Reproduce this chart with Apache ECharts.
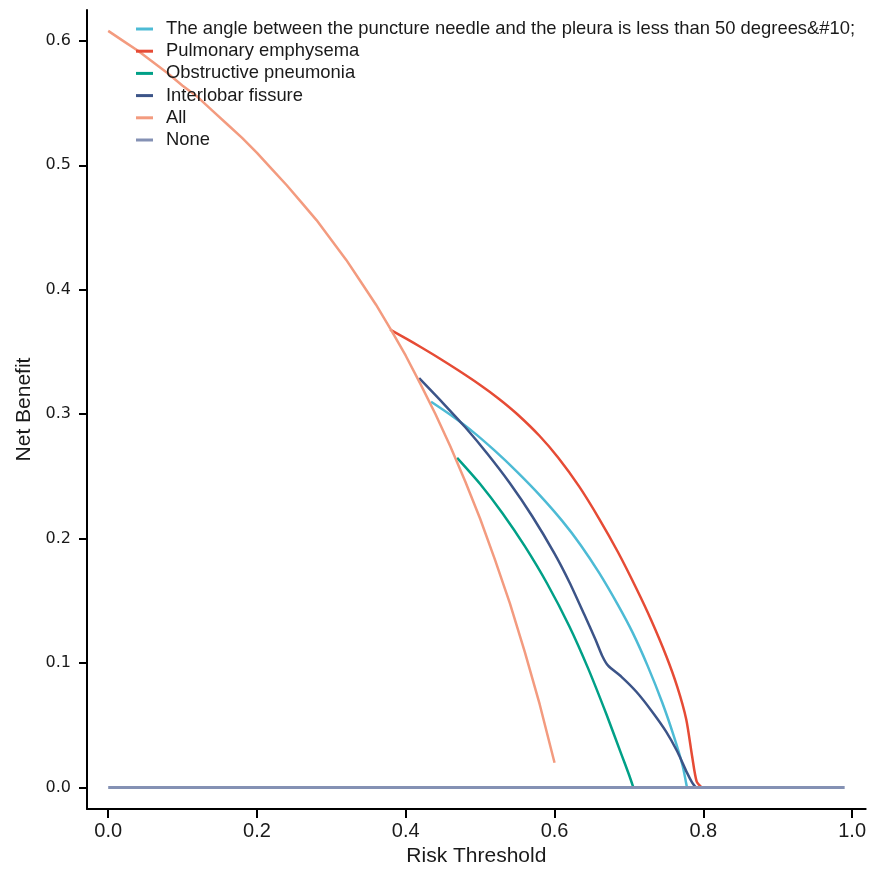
<!DOCTYPE html>
<html lang="en">
<head>
    <meta charset="UTF-8">
    <title>Decision curve</title>
    <style>
        html, body {
            margin: 0;
            padding: 0;
            overflow: hidden;
            background: #ffffff;
        }
        #main {
            width: 100vw;
            height: 100vh;
        }
    </style>
    <script type="text/javascript" src="https://cdn.jsdelivr.net/npm/echarts@6/dist/echarts.min.js"></script>
</head>
<body>
<div id="main"></div>
<script type="text/javascript">
    // values
    var seriesNames = ["The angle between the puncture needle and the pleura is less than 50 degrees&#10;",
        "Pulmonary emphysema", "Obstructive pneumonia", "Interlobar fissure", "All", "None"];
    var colors = ["#4DBBD5", "#E64B35", "#00A087", "#3C5488", "#F39B7F", "#8491B4"];
    var xTicks = [0, 0.2, 0.4, 0.6, 0.8, 1.0];
    var yTicks = [0, 0.1, 0.2, 0.3, 0.4, 0.5, 0.6];

    var angleX = [0.434, 0.46, 0.49, 0.52, 0.55, 0.58, 0.61, 0.635, 0.66, 0.685, 0.705, 0.725, 0.745, 0.76, 0.772, 0.778];
    var angleY = [0.310, 0.2995, 0.286, 0.2705, 0.2535, 0.235, 0.2145, 0.195, 0.1725, 0.147, 0.1245, 0.098, 0.068, 0.042, 0.018, 0];

    var emphysemaX = [0.379, 0.40, 0.42, 0.445, 0.47, 0.50, 0.525, 0.55, 0.58, 0.605, 0.633, 0.66, 0.685, 0.71, 0.73, 0.75, 0.765, 0.777, 0.785, 0.791, 0.798];
    var emphysemaY = [0.368, 0.361, 0.354, 0.345, 0.3355, 0.3235, 0.3125, 0.300, 0.2825, 0.265, 0.242, 0.216, 0.1895, 0.160, 0.1345, 0.106, 0.081, 0.055, 0.025, 0.005, 0];

    var pneumoniaX = [0.469, 0.50, 0.53, 0.56, 0.59, 0.62, 0.645, 0.67, 0.69, 0.70, 0.706];
    var pneumoniaY = [0.265, 0.244, 0.2205, 0.194, 0.164, 0.1295, 0.096, 0.0585, 0.0265, 0.0105, 0];

    var fissureX = [0.418, 0.45, 0.48, 0.51, 0.54, 0.57, 0.60, 0.62, 0.64, 0.655, 0.664, 0.672, 0.69, 0.71, 0.73, 0.75, 0.765, 0.778, 0.785, 0.79];
    var fissureY = [0.329, 0.309, 0.2895, 0.268, 0.2445, 0.218, 0.188, 0.165, 0.139, 0.119, 0.106, 0.098, 0.089, 0.077, 0.062, 0.045, 0.029, 0.012, 0.004, 0];

    var allX = [0, 0.02, 0.04, 0.06, 0.08, 0.10, 0.12, 0.14, 0.16, 0.18, 0.20, 0.22, 0.24, 0.26, 0.28, 0.30,
        0.32, 0.34, 0.36, 0.38, 0.40, 0.42, 0.44, 0.46, 0.48, 0.50, 0.52, 0.54, 0.56, 0.58, 0.60];
    var allY = [0.608, 0.600, 0.592, 0.583, 0.574, 0.564, 0.555, 0.544, 0.533, 0.522, 0.510, 0.497, 0.484, 0.470, 0.456, 0.440,
        0.424, 0.406, 0.388, 0.368, 0.347, 0.324, 0.300, 0.274, 0.246, 0.216, 0.183, 0.148, 0.109, 0.067, 0.020];

    var noneX = [0, 0.99];
    var noneY = [0, 0];

    function pairs(xs, ys) {
        return xs.map(function (x, i) { return [x, ys[i]]; });
    }

    var curves = [
        pairs(angleX, angleY),
        pairs(emphysemaX, emphysemaY),
        pairs(pneumoniaX, pneumoniaY),
        pairs(fissureX, fissureY),
        pairs(allX, allY),
        pairs(noneX, noneY)
    ];

    var chart = echarts.init(document.getElementById('main'));
    var option = {
        animation: false,
        color: colors,
        grid: {
            left: 87,
            right: 0,
            top: 10,
            bottom: 59
        },
        legend: {
            data: seriesNames,
            orient: 'vertical',
            left: 131,
            top: 15,
            icon: 'rect',
            itemWidth: 17,
            itemHeight: 3,
            itemGap: 4.2,
            textStyle: {
                fontFamily: 'Liberation Sans, Arial, sans-serif',
                fontSize: 18.4,
                color: '#1a1a1a',
                padding: [0, 0, 0, 8]
            }
        },
        xAxis: {
            type: 'value',
            min: -0.0285,
            max: 1.0183,
            name: 'Risk Threshold',
            nameLocation: 'middle',
            nameGap: 37,
            nameTextStyle: {
                fontFamily: 'Liberation Sans, Arial, sans-serif',
                fontSize: 21,
                color: '#1a1a1a'
            },
            splitLine: {show: false},
            axisLine: {
                onZero: false,
                lineStyle: {color: '#000', width: 2}
            },
            axisTick: {
                customValues: xTicks,
                length: 9,
                lineStyle: {color: '#000', width: 2}
            },
            axisLabel: {
                customValues: xTicks,
                margin: 12,
                fontFamily: 'Liberation Sans Narrow, Arial Narrow, Liberation Sans, sans-serif',
                fontSize: 20,
                color: '#1a1a1a',
                formatter: function (v) { return v.toFixed(1); }
            }
        },
        yAxis: {
            type: 'value',
            min: -0.0172,
            max: 0.6248,
            name: 'Net Benefit',
            nameLocation: 'middle',
            nameGap: 52,
            nameTextStyle: {
                fontFamily: 'Liberation Sans, Arial, sans-serif',
                fontSize: 21,
                color: '#1a1a1a'
            },
            splitLine: {show: false},
            axisLine: {
                show: true,
                onZero: false,
                lineStyle: {color: '#000', width: 2}
            },
            axisTick: {
                show: true,
                customValues: yTicks,
                length: 8,
                lineStyle: {color: '#000', width: 2}
            },
            axisLabel: {
                customValues: yTicks,
                margin: 16,
                fontFamily: 'DejaVu Sans, sans-serif',
                fontSize: 16,
                color: '#1a1a1a',
                formatter: function (v) { return v.toFixed(1); }
            }
        },
        series: seriesNames.map(function (name, i) {
            return {
                name: name,
                type: 'line',
                data: curves[i],
                showSymbol: false,
                smooth: i === 4 || i === 5 ? false : 0.25,
                lineStyle: {width: i === 5 ? 3 : 2.5, color: colors[i]},
                itemStyle: {color: colors[i]}
            };
        })
    };
    chart.setOption(option);
</script>
</body>
</html>
